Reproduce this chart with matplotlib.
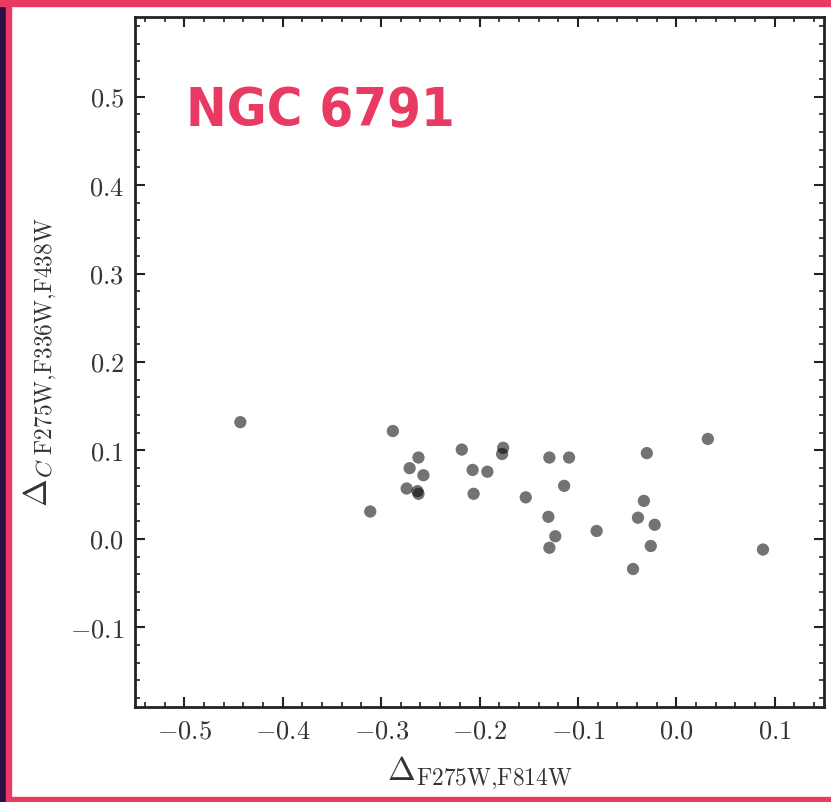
import matplotlib
matplotlib.use("Agg")
import matplotlib.pyplot as plt
from matplotlib.patches import Rectangle
from matplotlib.ticker import MultipleLocator, FuncFormatter

# colour differences
d_f275w_f814w = [-0.443, -0.288, -0.311, -0.262, -0.271, -0.257, -0.274, -0.263, -0.262,
                 -0.218, -0.207, -0.192, -0.176, -0.177, -0.206, -0.129, -0.109, -0.153,
                 -0.114, -0.130, -0.123, -0.129, -0.081, -0.030, -0.033, -0.039, -0.022,
                 -0.026, -0.044, 0.032, 0.088]
d_c_f275w_f336w_f438w = [0.132, 0.122, 0.031, 0.092, 0.080, 0.072, 0.057, 0.054, 0.051,
                         0.101, 0.078, 0.076, 0.103, 0.096, 0.051, 0.092, 0.092, 0.047,
                         0.060, 0.025, 0.003, -0.010, 0.009, 0.097, 0.043, 0.024, 0.016,
                         -0.008, -0.034, 0.113, -0.012]
cluster = "NGC 6791"

plt.rcParams['mathtext.fontset'] = 'cm'
plt.rcParams['font.family'] = 'serif'
plt.rcParams['font.serif'] = ['DejaVu Serif']

fig = plt.figure(figsize=(8.31, 8.02), dpi=100)

# slide-style frame
pink = '#e83a62'
fig.patches.append(Rectangle((0, 0), 6 / 831, 1, transform=fig.transFigure,
                             color='#2e0f43', zorder=0))
fig.patches.append(Rectangle((6 / 831, 0), 5 / 831, 1, transform=fig.transFigure,
                             color=pink, zorder=0))
fig.patches.append(Rectangle((0, 1 - 6 / 802), 1, 6 / 802, transform=fig.transFigure,
                             color=pink, zorder=0))
fig.patches.append(Rectangle((6 / 831, 0), 1, 5 / 802, transform=fig.transFigure,
                             color=pink, zorder=0))

ax = fig.add_axes([135 / 831, 1 - 707 / 802, 689 / 831, 690 / 802])
ax.scatter(d_f275w_f814w, d_c_f275w_f336w_f438w, s=78, color='k', alpha=0.55,
           edgecolors='none')

ax.set_xlim(-0.55, 0.15)
ax.set_ylim(-0.19, 0.59)
ax.xaxis.set_major_locator(MultipleLocator(0.1))
ax.xaxis.set_minor_locator(MultipleLocator(0.02))
ax.yaxis.set_major_locator(MultipleLocator(0.1))
ax.yaxis.set_minor_locator(MultipleLocator(0.02))
fmt = FuncFormatter(lambda v, p: r'$%.1f$' % (0.0 if abs(v) < 1e-9 else v))
ax.xaxis.set_major_formatter(fmt)
ax.yaxis.set_major_formatter(fmt)
ax.tick_params(which='both', direction='in', top=True, right=True, labelsize=19,
               color='#222222', labelcolor='#333333', pad=8)
ax.tick_params(which='major', length=7, width=1.5)
ax.tick_params(which='minor', length=3.5, width=1.2)
for s in ax.spines.values():
    s.set_linewidth(2)
    s.set_color('#222222')

ax.set_xlabel(r'$\Delta_{\rm F275W{,}F814W}$', fontsize=24, labelpad=8, color='#333333')
ax.set_ylabel(r'$\Delta_{C\ \rm F275W{,}F336W{,}F438W}$', fontsize=24, labelpad=8,
              color='#333333')

fig.text(186 / 831, 1 - 126 / 802, cluster, color=pink, fontsize=39, fontweight='bold',
         fontstretch='condensed', family=['DejaVu Sans'], ha='left', va='baseline')

fig.savefig('out.png', dpi=100)
